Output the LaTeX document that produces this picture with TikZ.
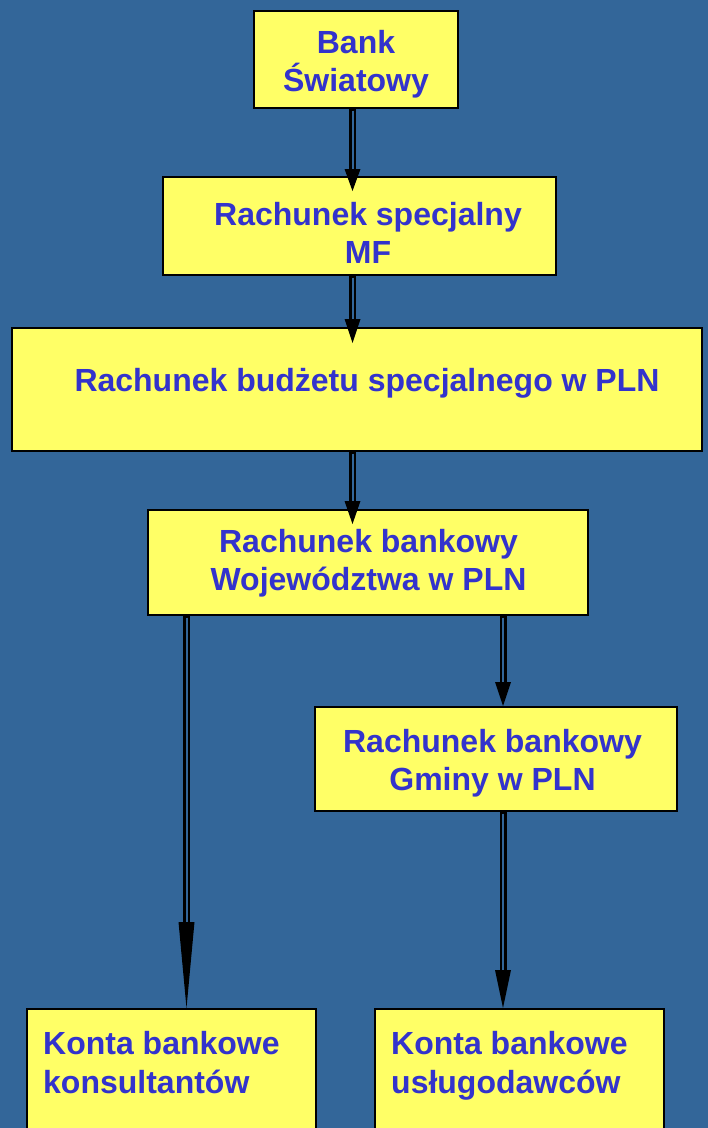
\documentclass[tikz,border=0pt]{standalone}
\usepackage{fontspec}
\setmainfont{Liberation Sans}
\usetikzlibrary{arrows.meta,calc}
\definecolor{bgblue}{RGB}{51,102,153}
\definecolor{boxyellow}{RGB}{255,255,102}
\definecolor{txtblue}{RGB}{51,51,204}
\begin{document}
\begin{tikzpicture}[x=1pt,y=-1pt,
  box/.style 2 args={draw=black, line width=2pt, fill=boxyellow, minimum width=#1, minimum height=#2, inner sep=0pt},
  txt/.style={text=txtblue, font=\fontsize{32}{38.5}\selectfont\bfseries, align=center, inner sep=0pt, anchor=base},
  ltxt/.style={txt, align=left, anchor=base west},
  conn/.style={line width=7pt, -{Triangle[length=#1,width=16pt,line width=0pt]},
    postaction={draw=bgblue, line width=2pt, -, shorten >=#1, shorten <=1.5pt}}]
\path[use as bounding box, fill=bgblue] (0,0) rectangle (708,1128);
\clip (0,0) rectangle (708,1128);
% boxes
\node[box={204pt}{97pt}] (b1) at (356,59.5) {};
\node[box={393pt}{98pt}] (b2) at (359.5,226) {};
\node[box={690pt}{123pt}] (b3) at (357,389.5) {};
\node[box={440pt}{105pt}] (b4) at (368,562.5) {};
\node[box={362pt}{104pt}] (b5) at (496,759) {};
\node[box={289pt}{131pt}] (b6) at (171.5,1074.5) {};
\node[box={289pt}{131pt}] (b7) at (519.5,1074.5) {};
% texts (anchor base = baseline of last line)
\node[txt] (t1) at (356,91.5) {Bank\\Światowy};
\node[txt] (t2) at (368,263.5) {Rachunek specjalny\\MF};
\node[txt] (t3) at (367,391.5) {Rachunek budżetu specjalnego w PLN};
\node[txt] (t4) at (368.5,590.5) {Rachunek bankowy\\Województwa w PLN};
\node[txt] (t5) at (492.5,790.5) {Rachunek bankowy\\Gminy w PLN};
\node[ltxt] (t6) at (43,1093) {Konta bankowe\\konsultantów};
\node[ltxt] (t7) at (391,1093) {Konta bankowe\\usługodawców};
% connectors
\draw[conn=22pt] (b1.south -| 352.5,0) -- ($(b2.north -| 352.5,0)+(0,15)$);
\draw[conn=24pt] (b2.south -| 352.5,0) -- ($(b3.north -| 352.5,0)+(0,16)$);
\draw[conn=23pt] (b3.south -| 352.5,0) -- ($(b4.north -| 352.5,0)+(0,15)$);
\draw[conn=24pt] (b4.south -| 503,0) -- (b5.north -| 503,0);
\draw[conn=86pt] (b4.south -| 186.5,0) -- (b6.north -| 186.5,0);
\draw[conn=38pt] (b5.south -| 503,0) -- (b7.north -| 503,0);
\end{tikzpicture}
\end{document}
